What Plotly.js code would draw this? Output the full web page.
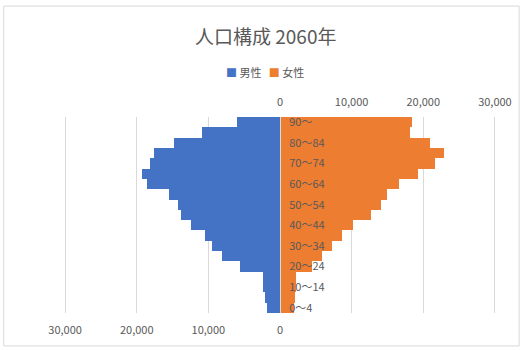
<!DOCTYPE html>
<html>
<head>
<meta charset="utf-8">
<script src="https://cdn.plot.ly/plotly-3.0.1.min.js"></script>
<style>html,body{margin:0;padding:0;background:#fff;}#chart{width:521px;height:350px;}</style>
</head>
<body>
<div id="chart"></div>
<script>
const categories = ["0〜4","5〜9","10〜14","15〜19","20〜24","25〜29","30〜34","35〜39","40〜44","45〜49","50〜54","55〜59","60〜64","65〜69","70〜74","75〜79","80〜84","85〜89","90〜"];
const male = [1790,2160,2340,2440,5600,8100,9500,10500,12400,13800,14300,15500,18500,19200,18200,17600,14800,10850,6000];
const female = [1900,2100,2200,2300,4500,5900,7200,8700,10200,12750,14100,15000,16600,19300,21700,22900,20900,18100,18400];
const labelCats = ["0〜4","10〜14","20〜24","30〜34","40〜44","50〜54","60〜64","70〜74","80〜84","90〜"];
const leftTicks = [-30000,-20000,-10000,0];
const leftText = ["30,000","20,000","10,000","0"];
const rightTicks = [0,10000,20000,30000];
const rightText = ["0","10,000","20,000","30,000"];
const seriesNames = ["男性","女性"];
const seriesColors = ["#4472C4","#ED7D31"];

const font = "Noto Sans CJK JP, sans-serif";
const grey = "#595959";
const R = [-30150, 30150];

const traces = [
  {type:"bar", orientation:"h", name:seriesNames[0], y:categories, x:male.map(v=>-v),
   xaxis:"x", yaxis:"y", marker:{color:seriesColors[0]}, hoverinfo:"skip"},
  {type:"bar", orientation:"h", name:seriesNames[1], y:categories, x:female,
   xaxis:"x2", yaxis:"y", marker:{color:seriesColors[1]}, hoverinfo:"skip"}
];

const legendText = seriesNames.map((n,i)=>'<span style="color:'+seriesColors[i]+'">■</span>&nbsp;'+n).join('&nbsp;&nbsp;&nbsp;');

const layout = {
  width:521, height:350,
  margin:{l:64, r:25, t:117, b:37},
  paper_bgcolor:"#fff", plot_bgcolor:"#fff",
  font:{family:font, color:grey, size:11},
  title:{text:"人口構成 2060年", font:{family:font, size:19, color:grey},
         x:0.51, xanchor:"center", y:0.893, yanchor:"middle", yref:"container"},
  showlegend:false,
  barmode:"overlay", bargap:0,
  xaxis:{range:R, side:"bottom", tickvals:leftTicks, ticktext:leftText,
         showgrid:true, gridcolor:"#D9D9D9", gridwidth:1, zeroline:false, showline:false,
         ticks:"", ticklabelstandoff:9, tickfont:{size:11, color:grey}, fixedrange:true},
  xaxis2:{range:R, side:"top", overlaying:"x", anchor:"y", tickvals:rightTicks, ticktext:rightText,
          showgrid:true, gridcolor:"#D9D9D9", gridwidth:1, zeroline:false, showline:false,
          ticks:"", ticklabelstandoff:8, tickfont:{size:11, color:grey}, fixedrange:true},
  yaxis:{type:"category", categoryorder:"array", categoryarray:categories,
         tickvals:labelCats, anchor:"free", position:0.5, side:"right",
         showline:true, linecolor:"#D9D9D9", linewidth:1, showgrid:false, zeroline:false,
         ticks:"outside", ticklen:6, tickcolor:"rgba(0,0,0,0)",
         tickfont:{size:11, color:grey}, fixedrange:true},
  annotations:[{text:legendText, xref:"paper", yref:"paper", x:0.465, y:1.23,
                xanchor:"center", yanchor:"middle", showarrow:false,
                font:{family:font, size:11, color:grey}}],
  shapes:[{type:"rect", xref:"paper", yref:"paper", x0:-0.1396, x1:1.0535, y0:-0.168, y1:1.566,
           line:{color:"#D9D9D9", width:1}, fillcolor:"rgba(0,0,0,0)", layer:"below"}]
};

Plotly.newPlot("chart", traces, layout, {displayModeBar:false, staticPlot:true});
</script>
</body>
</html>
